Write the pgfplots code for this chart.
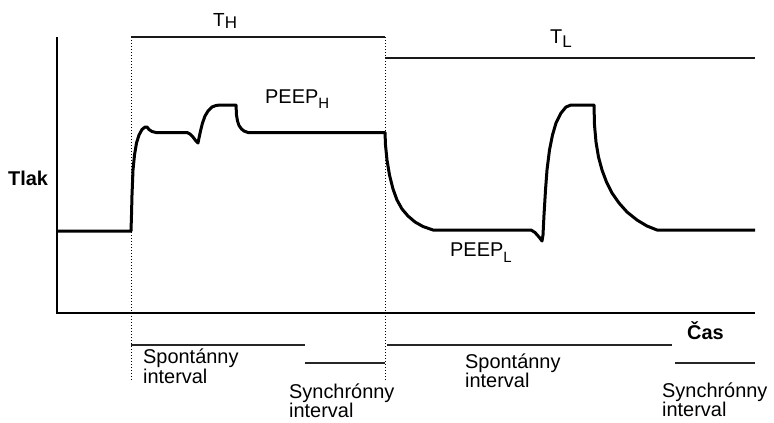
\documentclass[border=0pt]{standalone}
\usepackage{fontspec}
\setmainfont{Liberation Sans}
\usepackage{pgfplots}
\pgfplotsset{compat=1.18}
\newcommand\sub[3]{\raisebox{-#2bp}{\fontsize{#1}{#1}\selectfont #3}}
\begin{document}
\begin{tikzpicture}[font=\fontsize{20}{20}\selectfont]
\begin{axis}[name=ax, x=1bp, y=1bp, xmin=0, xmax=774, ymin=0, ymax=422,
  y dir=reverse, hide axis, clip=false]
% axes
\addplot[black, line width=2.7bp, line join=miter] coordinates {(57,37)(57,313)(755,313)};
% dotted guides
\addplot[black, line width=1bp, dash pattern=on 1bp off 2bp] coordinates {(131,37)(131,380)};
\addplot[black, line width=1bp, dash pattern=on 1bp off 2bp] coordinates {(385,37)(385,380)};
% T lines
\addplot[black!90, line width=2.5bp] coordinates {(131,37)(385,37)};
\addplot[black!90, line width=2.5bp] coordinates {(385,58)(755,58)};
% interval lines
\addplot[black!85, line width=2bp] coordinates {(131,345)(305,345)};
\addplot[black!85, line width=2bp] coordinates {(305,363)(385,363)};
\addplot[black!85, line width=2bp] coordinates {(387,345)(672,345)};
\addplot[black!85, line width=2bp] coordinates {(675,363)(755,363)};
% pressure curve
\addplot[black, line width=3bp, line join=round] coordinates {
(57,231)(131,231)(131.5,215)(132,195)(133,170)(134.5,155)(136.5,143)(139,135)(142,129.5)(145,127)(147,127)(149,129.5)(152,131.5)(156,132.5)(187,132.5)(190,134)(193,137)(196,141)(198,143)(199,138)(200.5,131)(202.5,123)(205,116)(208,111)(212,107)(216,105.5)(220,105)(236,105)(236.5,115)(237.5,121)(239,125.5)(241.5,129)(244,131)(248,132.5)(385,132.5)(385.5,145)(387,160)(389.5,175)(393,189)(397,200)(402,209)(408,216)(415,222)(423,226.5)(433,230)(531,230)(535,232.5)(539,237)(542,241)(543,235)(544,215)(545.5,190)(547,170)(549.5,150)(552.5,135)(556,123)(561,113)(566,107)(571,105)(594,105)(594.5,125)(596,142)(598.5,157)(602,170)(606.5,182)(612,193)(619,203)(627,212)(637,220)(647,226)(657,230)(755,230)};
% labels
\node[anchor=base west, inner sep=0pt] at (axis cs:213,26) {\fontsize{19}{19}\selectfont T\sub{17}{2.5}{H}};
\node[anchor=base west, inner sep=0pt] at (axis cs:550,43) {\fontsize{20}{20}\selectfont T\sub{17}{4}{L}};
\node[anchor=base west, inner sep=0pt] at (axis cs:265,103) {PEEP\sub{15}{5}{H}};
\node[anchor=base west, inner sep=0pt] at (axis cs:450,256) {PEEP\sub{15}{6}{L}};
\node[anchor=base west, inner sep=0pt] at (axis cs:8,185) {\textbf{Tlak}};
\node[anchor=base west, inner sep=0pt] at (axis cs:687,339) {\textbf{Čas}};
\node[anchor=base west, inner sep=0pt] at (axis cs:143,363) {Spontánny};
\node[anchor=base west, inner sep=0pt] at (axis cs:143,383) {interval};
\node[anchor=base west, inner sep=0pt] at (axis cs:289,398) {Synchrónny};
\node[anchor=base west, inner sep=0pt] at (axis cs:289,417) {interval};
\node[anchor=base west, inner sep=0pt] at (axis cs:465,368) {Spontánny};
\node[anchor=base west, inner sep=0pt] at (axis cs:465,387) {interval};
\node[anchor=base west, inner sep=0pt] at (axis cs:662,397) {Synchrónny};
\node[anchor=base west, inner sep=0pt] at (axis cs:662,416) {interval};
\end{axis}
\pgfresetboundingbox
\path (ax.south west) rectangle (ax.north east);
\end{tikzpicture}
\end{document}
